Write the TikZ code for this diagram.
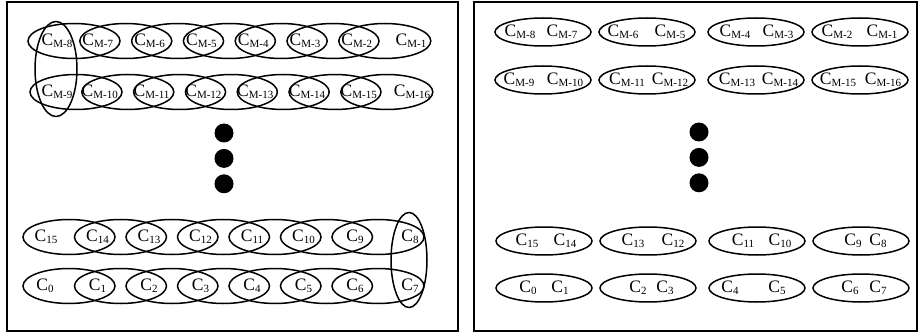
\documentclass[tikz,border=0pt]{standalone}
\usepackage{fontspec}
\setmainfont{Liberation Serif}
\usetikzlibrary{shapes.geometric, positioning}
\newcommand{\cl}[1]{C\raisebox{-2pt}{\fontsize{11}{11}\selectfont #1}}

\begin{document}
\begin{tikzpicture}[x=1pt, y=-1pt,
  ring/.style={draw, ellipse, line width=1.5pt, inner sep=0pt, minimum width=92pt, minimum height=35pt},
  pair/.style={ring, minimum width=96pt, minimum height=28pt},
  tall/.style={draw, ellipse, line width=1.5pt, inner sep=0pt, minimum height=95pt},
  tag/.style={inner sep=0pt, font=\fontsize{17.5}{17.5}\selectfont},
  dot/.style={circle, fill, inner sep=0pt, minimum size=19pt},
  frame/.style={line width=1.3pt}]
\useasboundingbox (0,0) rectangle (919,334);
\draw[frame] (7,2) rectangle (458,331);
\draw[frame] (474,2) rectangle (917,331);

\foreach \i in {0,...,6} {
  \node[ring] (ta\i) at (74+51.8*\i,41) {};
  \node[ring] (tb\i) at (76+51.8*\i,92) {};
  \node[ring] (bc\i) at (69+51.5*\i,237) {};
  \node[ring] (bd\i) at (69+51.5*\i,286) {};
}
\node[tag] (la0) at (57,41) {\cl{M-8}};
\foreach \s [count=\k] in {M-7,M-6,M-5,M-4,M-3,M-2}
  \node[tag] (la\k) at (46+51.8*\k,41) {\cl{\s}};
\node[tag] (la7) at (411,41) {\cl{M-1}};
\node[tag] (lb0) at (57,92) {\cl{M-9}};
\foreach \s [count=\k] in {M-10,M-11,M-12,M-13,M-14,M-15}
  \node[tag] (lb\k) at (48+51.8*\k,92) {\cl{\s}};
\node[tag] (lb7) at (412,92) {\cl{M-16}};
\node[tag] (lc0) at (46,237) {\cl{15}};
\foreach \s [count=\k] in {14,13,12,11,10,9}
  \node[tag] (lc\k) at (46+51.5*\k,237) {\cl{\s}};
\node[tag] (lc7) at (410,237) {\cl{8}};
\node[tag] (ld0) at (45,286) {\cl{0}};
\foreach \s [count=\k] in {1,2,3,4,5,6}
  \node[tag] (ld\k) at (46+51.5*\k,286) {\cl{\s}};
\node[tag] (ld7) at (410,286) {\cl{7}};

\node[tall, minimum width=42pt] (vl) at (56,69) {};
\node[tall, minimum width=36pt] (vr) at (409,260) {};

\node[dot] (da) at (224,133) {};
\node[dot, below=6pt of da] (db) {};
\node[dot, below=6pt of db] (dc) {};

\foreach \x [count=\k] in {543,647,756,860} {
  \node[pair] (ra\k) at (\x,32) {};
  \node[pair] (rb\k) at (\x,80) {};
  \node[pair] (rc\k) at (\x+1,241) {};
  \node[pair] (rd\k) at (\x+1,288) {};
}
\foreach \xa/\sa/\xb/\sb [count=\k] in {520/M-8/562/M-7, 623/M-6/670/M-5, 735/M-4/778/M-3, 837/M-2/882/M-1} {
  \node[tag] (pa\k) at (\xa,32) {\cl{\sa}};
  \node[tag] (qa\k) at (\xb,32) {\cl{\sb}};
}
\foreach \xa/\sa/\xb/\sb [count=\k] in {519/M-9/565/M-10, 627/M-11/670/M-12, 737/M-13/780/M-14, 838/M-15/883/M-16} {
  \node[tag] (pb\k) at (\xa,80) {\cl{\sa}};
  \node[tag] (qb\k) at (\xb,80) {\cl{\sb}};
}
\foreach \xa/\sa/\xb/\sb [count=\k] in {527/15/565/14, 633/13/673/12, 743/11/780/10, 853/9/878/8} {
  \node[tag] (pc\k) at (\xa,241) {\cl{\sa}};
  \node[tag] (qc\k) at (\xb,241) {\cl{\sb}};
}
\foreach \xa/\sa/\xb/\sb [count=\k] in {528/0/560/1, 638/2/665/3, 730/4/777/5, 850/6/878/7} {
  \node[tag] (pd\k) at (\xa,288) {\cl{\sa}};
  \node[tag] (qd\k) at (\xb,288) {\cl{\sb}};
}

\node[dot] (ea) at (699,132) {};
\node[dot, below=6pt of ea] (eb) {};
\node[dot, below=6pt of eb] (ec) {};
\end{tikzpicture}
\end{document}
